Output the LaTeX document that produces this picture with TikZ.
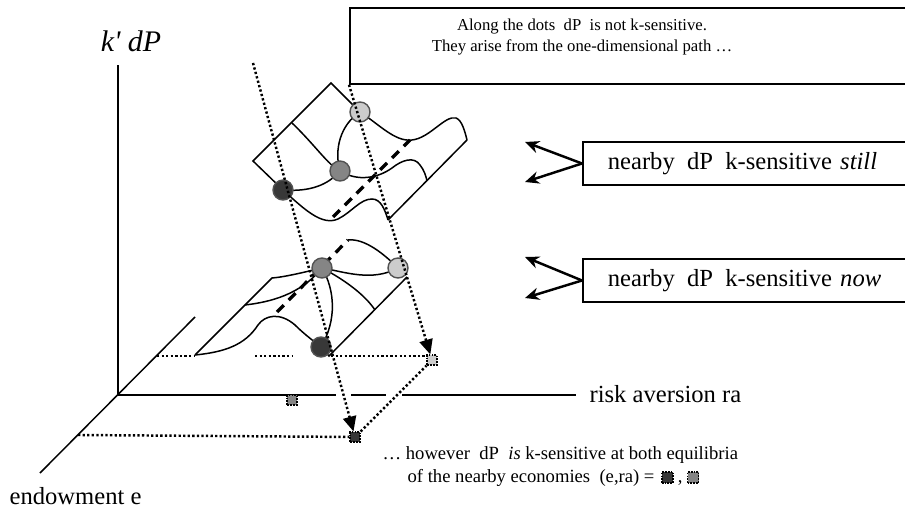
\documentclass[tikz,border=0pt]{standalone}
\usepackage{fontspec}
\setmainfont{Liberation Serif}
\usetikzlibrary{positioning,arrows.meta}
\definecolor{ink}{gray}{0.0}
\definecolor{balldark}{gray}{0.22}
\definecolor{ballmid}{gray}{0.52}
\definecolor{balllight}{gray}{0.80}
\definecolor{ballrim}{gray}{0.32}

\begin{document}
\begin{tikzpicture}[x=0.2mm, y=-0.2mm, line width=0.85pt, ink,
  font=\fontsize{14}{17}\selectfont,
  dots/.style={line width=1.4pt, dash pattern=on 1.3pt off 1.3pt},
  dotarrow/.style={dots, -{Triangle[length=8.5pt,width=7.5pt]}},
  ridge/.style={line width=1.9pt, dash pattern=on 5.5pt off 4pt},
  ball/.style={circle, draw=ballrim, line width=0.8pt, minimum size=4mm, inner sep=0pt},
  marker/.style={draw, dash pattern=on 1pt off 0.6pt, line width=0.9pt, minimum size=1.9mm, inner sep=0pt},
  notebox/.style={draw, line width=1pt, anchor=west, minimum height=8.6mm, text width=62mm, inner xsep=5mm, align=left},
  legend/.style={font=\fontsize{10.6}{13}\selectfont},
  pointer/.style={line width=1.4pt, -{Stealth[length=8pt,width=7pt]}}]
  \useasboundingbox (0,0) rectangle (905,512);

  % axes
  \coordinate (origin) at (118,395);
  \draw (origin) -- (118,65);
  \draw (40,473) -- (195,317);
  \draw (origin) -- (336,395) (351,395) -- (386,395) (402,395) -- (576,395);
  \node[anchor=base, font=\fontsize{17}{20}\selectfont\itshape] (klabel) at (131,52) {k\textquotesingle\ dP};
  \node[anchor=base west] (ralabel) at (583,402) {risk aversion ra};
  \node[anchor=base west] (elabel) at (3,504) {endowment e};

  % upper surface
  \coordinate (uL) at (253,161);
  \coordinate (uT) at (331,83);
  \coordinate (uB) at (388,220);
  \coordinate (uR) at (467,140);
  \coordinate (ud) at (283,190);
  \coordinate (um) at (340,171);
  \coordinate (ul) at (360,112);
  \draw (ud) -- (uL) -- (uT) -- (ul);
  \draw (292,123) .. controls (315,145) and (328,165) .. (um);
  \draw (ul) .. controls (340,125) and (334,150) .. (um);
  \draw (ud) .. controls (310,192) and (328,185) .. (um);
  \draw (ud) .. controls (305,210) and (322,226) .. (338,219) .. controls (352,212) and (360,199) .. (372,199) .. controls (381,199) and (385,210) .. (uB);
  \draw (um) .. controls (358,182) and (378,178) .. (392,168) .. controls (402,160) and (414,156) .. (420,165) .. controls (424,170) and (426,176) .. (427,181);
  \draw (uB) -- (uR);
  \draw (ul) .. controls (380,125) and (395,142) .. (412,140) .. controls (430,138) and (445,115) .. (456,118) .. controls (462,120) and (465,132) .. (uR);
  \draw[ridge] (333,217) -- (410,140);

  % lower surface
  \coordinate (lLL) at (195,355);
  \coordinate (lK) at (272,278);
  \coordinate (lC) at (329,356);
  \coordinate (lR) at (407,277);
  \coordinate (ld) at (321,347);
  \coordinate (lm) at (322,268);
  \coordinate (ll) at (398,268);
  \draw (lLL) -- (lK) .. controls (285,277) and (305,272) .. (lm);
  \draw (245,305) .. controls (270,302) and (300,295) .. (lm);
  \draw (lLL) .. controls (225,352) and (245,345) .. (258,325) .. controls (265,315) and (280,312) .. (295,325) .. controls (305,335) and (315,342) .. (ld);
  \draw (lm) .. controls (335,290) and (337,320) .. (ld);
  \draw (lm) .. controls (345,280) and (365,295) .. (375,310);
  \draw (lm) .. controls (345,272) and (372,282) .. (ll);
  \draw (348,240) .. controls (365,238) and (385,255) .. (ll);
  \draw (ld) -- (lC) -- (lR);
  \draw[ridge] (277,312) -- (348,240);

  % equilibria
  \node[ball, fill=balldark] (udark) at (ud) {};
  \node[ball, fill=ballmid] (umid) at (um) {};
  \node[ball, fill=balllight] (ulight) at (ul) {};
  \node[ball, fill=balldark] (ldark) at (ld) {};
  \node[ball, fill=ballmid] (lmid) at (lm) {};
  \node[ball, fill=balllight] (llight) at (ll) {};

  % nearby economies
  \node[marker, fill=balldark] (edark) at (355,437) {};
  \node[marker, fill=balllight] (elight) at (432,360) {};
  \node[marker, fill=ballmid] (emid) at (292,400) {};

  % notes
  \node[draw, line width=1pt, anchor=north west, minimum width=114mm, minimum height=15.2mm] (alongbox) at (349,7) {};
  \node[align=center, font=\fontsize{9.5}{11.5}\selectfont] (alongtext) at (582,37) {Along the dots\ \ dP\ \ is not k-sensitive.\\They arise from the one-dimensional path …};
  \node[notebox] (still) at (582,163.5) {nearby\ \,dP\ \,k-sensitive \textit{still}};
  \node[notebox] (now) at (582,280.5) {nearby\ \,dP\ \,k-sensitive \textit{now}};
  \coordinate (stillup) at (525,142);
  \coordinate (stilldown) at (525,182);
  \coordinate (nowup) at (525,257);
  \coordinate (nowdown) at (525,298);
  \draw[pointer] (still.west) -- (stillup);
  \draw[pointer] (still.west) -- (stilldown);
  \draw[pointer] (now.west) -- (nowup);
  \draw[pointer] (now.west) -- (nowdown);

  % dotted paths
  \coordinate (pathtop) at (253,63);
  \draw[dotarrow] (pathtop) -- (edark);
  \draw[dotarrow] (alongbox.south west) -- (elight);
  \draw[dots] (edark) -- (elight);
  \draw[dots] (78,435) -- (edark);
  \foreach \a/\b in {157/195, 255/293, 331/426}
    \draw[dots] (\a,356) -- (\b,356);

  % legend
  \node[legend, anchor=base west] (however) at (376,459) {…\ however\ \ dP\ \ \textit{is} k-sensitive at both equilibria};
  \node[legend, anchor=base west] (economies) at (401,482) {of the nearby economies\ \ (e,ra) =};
  \node[marker, fill=balldark, minimum size=2.2mm, anchor=west] (legdark) at (economies.east) {};
  \node[legend, anchor=base west, inner xsep=2pt] (comma) at (legdark.east |- economies.base) {,};
  \node[marker, fill=ballmid, minimum size=2.2mm, anchor=west] (legmid) at (comma.east |- legdark) {};
\end{tikzpicture}
\end{document}
